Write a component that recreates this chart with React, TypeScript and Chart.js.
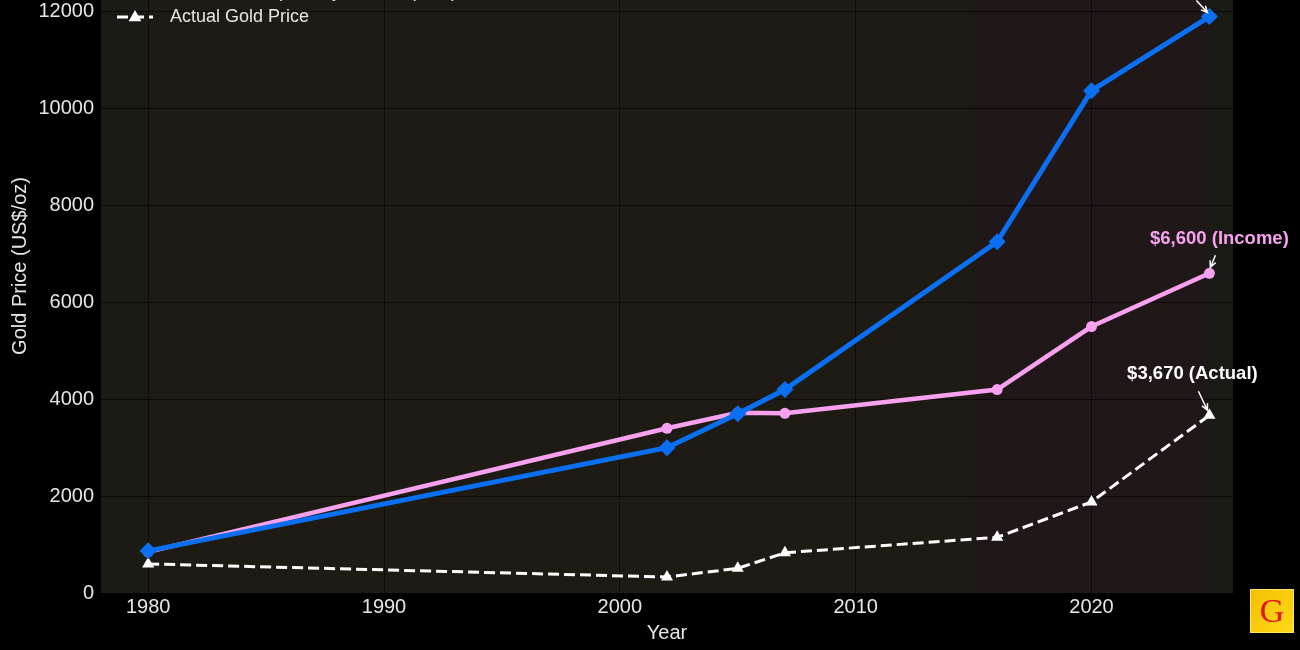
import React, { useEffect, useRef } from "react";
import { Chart, registerables } from "chart.js";

Chart.register(...registerables);

// ---------- data ----------
const years = [1980, 2002, 2005, 2007, 2016, 2020, 2025];
const m2Price = [870, 3000, 3700, 4200, 7250, 10370, 11900];
const incomePrice = [850, 3400, 3720, 3710, 4200, 5500, 6600];
const actualPrice = [600, 330, 510, 830, 1150, 1880, 3670];

const seriesLabels = [
  "Gold Price Implied by M2 Money Supply (US$)",
  "Gold Price Implied by Income (US$)",
  "Actual Gold Price",
];
const annotationSuffix = ["(M2)", "(Income)", "(Actual)"];

const xTicks = [1980, 1990, 2000, 2010, 2020];
const yTicks = [0, 2000, 4000, 6000, 8000, 10000, 12000];

const bandStarts = [1980, 2015];
const bandEnds = [2015, 2025];

// ---------- styles ----------
const FONT = "'Liberation Sans', Arial, sans-serif";
const TEXT = "#e6e6e6";
const PLOT_BG = "#1a1b14";
const BAND_COLORS = ["#1e1b15", "#201719"];
const GRID = "rgba(0,0,0,0.55)";
const COLORS = ["#0b6ff2", "#f7a1ef", "#ffffff"];

const fmt = (v: number) => "$" + v.toLocaleString("en-US");

// annotation geometry (pixel offsets from the last point)
const annotGeom = [
  { tx: -30, ty: -38, ax0: -13, ay0: -16, ax1: -2, ay1: -4 },
  { tx: 10, ty: -34, ax0: 6, ay0: -18, ax1: 1, ay1: -6 },
  { tx: -17, ty: -41, ax0: -11, ay0: -24, ax1: -2, ay1: -5 },
];

function drawArrow(ctx: CanvasRenderingContext2D, x0: number, y0: number, x1: number, y1: number, color: string) {
  ctx.save();
  ctx.strokeStyle = color;
  ctx.lineWidth = 1.5;
  ctx.beginPath();
  ctx.moveTo(x0, y0);
  ctx.lineTo(x1, y1);
  const ang = Math.atan2(y1 - y0, x1 - x0);
  const hl = 7;
  const spread = 0.45;
  ctx.moveTo(x1 - hl * Math.cos(ang - spread), y1 - hl * Math.sin(ang - spread));
  ctx.lineTo(x1, y1);
  ctx.lineTo(x1 - hl * Math.cos(ang + spread), y1 - hl * Math.sin(ang + spread));
  ctx.stroke();
  ctx.restore();
}

const customPlugin = {
  id: "customDecor",
  beforeDraw(chart: any) {
    const { ctx, chartArea: a, scales } = chart;
    const x = scales.x;
    ctx.save();
    ctx.fillStyle = PLOT_BG;
    ctx.fillRect(a.left, a.top, a.right - a.left, a.bottom - a.top);
    bandStarts.forEach((s, i) => {
      const x0 = x.getPixelForValue(s);
      const x1 = x.getPixelForValue(bandEnds[i]);
      ctx.fillStyle = BAND_COLORS[i];
      ctx.fillRect(x0, a.top, x1 - x0, a.bottom - a.top);
    });
    ctx.restore();
  },
  afterDraw(chart: any) {
    const { ctx, chartArea: a } = chart;
    // legend
    ctx.save();
    const rowY = [28, 53, 78];
    chart.data.datasets.forEach((ds: any, i: number) => {
      const y = a.top + rowY[i];
      const lx0 = a.left + 16;
      const lx1 = a.left + 52;
      ctx.save();
      ctx.strokeStyle = ds.borderColor;
      ctx.lineWidth = ds.borderWidth;
      ctx.setLineDash(ds.borderDash || []);
      ctx.beginPath();
      ctx.moveTo(lx0, y);
      ctx.lineTo(lx1, y);
      ctx.stroke();
      ctx.restore();
      const cx = (lx0 + lx1) / 2;
      ctx.fillStyle = ds.borderColor;
      ctx.beginPath();
      const r = ds.pointRadius;
      if (ds.pointStyle === "rectRot") {
        ctx.moveTo(cx, y - r); ctx.lineTo(cx + r, y); ctx.lineTo(cx, y + r); ctx.lineTo(cx - r, y);
      } else if (ds.pointStyle === "triangle") {
        ctx.moveTo(cx, y - r); ctx.lineTo(cx + r * 0.9, y + r * 0.6); ctx.lineTo(cx - r * 0.9, y + r * 0.6);
      } else {
        ctx.arc(cx, y, r, 0, Math.PI * 2);
      }
      ctx.closePath();
      ctx.fill();
      ctx.fillStyle = TEXT;
      ctx.font = `18px ${FONT}`;
      ctx.textAlign = "left";
      ctx.textBaseline = "middle";
      ctx.fillText(ds.label, a.left + 69, y);
    });
    ctx.restore();

    // annotations on last points
    const series = [m2Price, incomePrice, actualPrice];
    series.forEach((vals, i) => {
      const meta = chart.getDatasetMeta(i);
      const pt = meta.data[meta.data.length - 1];
      const g = annotGeom[i];
      const v = vals[vals.length - 1];
      const color = i === 1 ? COLORS[1] : "#ffffff";
      ctx.save();
      ctx.font = `bold 18.5px ${FONT}`;
      ctx.fillStyle = color;
      ctx.textAlign = "center";
      ctx.textBaseline = "middle";
      ctx.fillText(`${fmt(v)} ${annotationSuffix[i]}`, pt.x + g.tx, pt.y + g.ty);
      ctx.restore();
      drawArrow(ctx, pt.x + g.ax0, pt.y + g.ay0, pt.x + g.ax1, pt.y + g.ay1, "#ffffff");
    });
  },
};

export default function App() {
  const ref = useRef<HTMLCanvasElement | null>(null);

  useEffect(() => {
    if (!ref.current) return;
    const mk = (vals: number[]) => years.map((yr, i) => ({ x: yr, y: vals[i] }));
    const chart = new Chart(ref.current, {
      type: "line",
      data: {
        datasets: [
          {
            label: seriesLabels[0],
            data: mk(m2Price),
            borderColor: COLORS[0],
            backgroundColor: COLORS[0],
            borderWidth: 5,
            pointStyle: "rectRot",
            pointRadius: 8.5,
            pointBackgroundColor: COLORS[0],
            pointBorderColor: COLORS[0],
            pointBorderWidth: 0,
            tension: 0,
          },
          {
            label: seriesLabels[1],
            data: mk(incomePrice),
            borderColor: COLORS[1],
            backgroundColor: COLORS[1],
            borderWidth: 4.5,
            pointStyle: "circle",
            pointRadius: 5.5,
            pointBackgroundColor: COLORS[1],
            pointBorderColor: COLORS[1],
            pointBorderWidth: 0,
            tension: 0,
          },
          {
            label: seriesLabels[2],
            data: mk(actualPrice),
            borderColor: COLORS[2],
            backgroundColor: COLORS[2],
            borderWidth: 3,
            borderDash: [11, 5],
            pointStyle: "triangle",
            pointRadius: 7,
            pointBackgroundColor: COLORS[2],
            pointBorderColor: COLORS[2],
            pointBorderWidth: 0,
            tension: 0,
          },
        ],
      },
      options: {
        responsive: false,
        animation: false,
        events: [],
        layout: { padding: { top: 19, right: 67, bottom: 0, left: 0 } },
        plugins: { legend: { display: false }, tooltip: { enabled: false } },
        scales: {
          x: {
            type: "linear",
            min: 1978,
            max: 2026,
            grid: { color: GRID, drawTicks: false, lineWidth: 1 },
            border: { display: false },
            ticks: {
              color: TEXT,
              font: { size: 20, family: FONT },
              padding: 2,
              callback: (v: any) => String(v),
            },
            title: {
              display: true,
              text: "Year",
              color: TEXT,
              font: { size: 20, family: FONT },
              padding: { top: 0, bottom: 5 },
            },
            afterBuildTicks: (s: any) => {
              s.ticks = xTicks.map((v) => ({ value: v }));
            },
            afterFit: (s: any) => {
              s.height = 57;
            },
          },
          y: {
            type: "linear",
            min: 0,
            max: 13500,
            grid: { color: GRID, drawTicks: false, lineWidth: 1 },
            border: { display: false },
            ticks: {
              color: TEXT,
              font: { size: 20, family: FONT },
              padding: 7,
              callback: (v: any) => String(v),
            },
            title: {
              display: true,
              text: "Gold Price (US$/oz)",
              color: TEXT,
              font: { size: 20, family: FONT },
              padding: { top: 8, bottom: 0 },
            },
            afterBuildTicks: (s: any) => {
              s.ticks = yTicks.map((v) => ({ value: v }));
            },
            afterFit: (s: any) => {
              s.width = 101;
            },
          },
        },
      },
      plugins: [customPlugin],
    });
    return () => chart.destroy();
  }, []);

  return (
    <div
      style={{
        position: "fixed",
        left: 0,
        top: 0,
        width: 1300,
        height: 650,
        background: "#000",
        overflow: "hidden",
      }}
    >
      <canvas
        ref={ref}
        width={1300}
        height={730}
        style={{ position: "absolute", left: 0, top: -80, width: 1300, height: 730 }}
      />
      <div
        style={{
          position: "absolute",
          left: 1250,
          top: 589,
          width: 42,
          height: 42,
          border: "1px solid #ffe45c",
          background: "linear-gradient(135deg, #f3c000, #ffd81a)",
          display: "flex",
          alignItems: "center",
          justifyContent: "center",
          color: "#e3141b",
          fontFamily: "'Liberation Serif', 'DejaVu Serif', serif",
          fontSize: 34,
          lineHeight: "42px",
        }}
      >
        G
      </div>
    </div>
  );
}
